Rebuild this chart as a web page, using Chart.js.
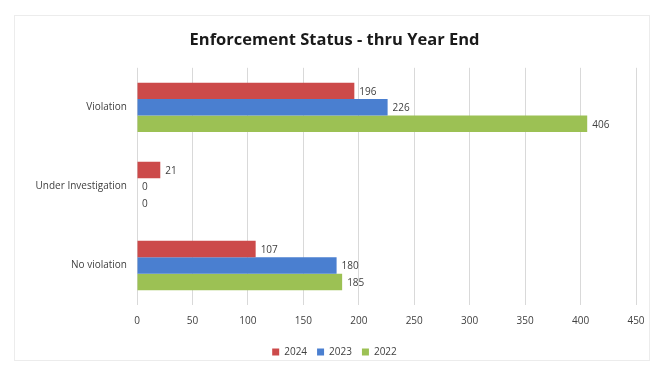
<!DOCTYPE html>
<html lang="en">
<head>
  <meta charset="UTF-8">
  <title>Enforcement Status</title>
  <script src="https://cdn.jsdelivr.net/npm/chart.js"></script>
  <style>
    html, body { margin: 0; padding: 0; background: #fff; }
    .frame {
      position: absolute;
      left: 14px; top: 15px;
      width: 636px; height: 346px;
      border: 1px solid #ececec;
      box-sizing: border-box;
    }
    #chart { position: absolute; left: 0; top: 0; }
  </style>
</head>
<body>
<div class="frame"></div>
<canvas id="chart" width="657" height="370"></canvas>

<script>
  const statuses = ['Violation', 'Under Investigation', 'No violation'];
  const years = ['2024', '2023', '2022'];
  const counts2024 = [196, 21, 107];
  const counts2023 = [226, 0, 180];
  const counts2022 = [406, 0, 185];
  const xTicks = [0, 50, 100, 150, 200, 250, 300, 350, 400, 450];
  const colors = ['#cc4a4a', '#4a7fd0', '#9cc154'];

  const font = '"Open Sans", "Liberation Sans", sans-serif';
  const textColor = '#404040';

  // value labels to the right of each bar end
  const barValues = {
    id: 'barValues',
    afterDatasetsDraw(chart) {
      const ctx = chart.ctx;
      ctx.save();
      ctx.font = '10px ' + font;
      ctx.fillStyle = textColor;
      ctx.textBaseline = 'middle';
      ctx.textAlign = 'left';
      chart.data.datasets.forEach((ds, i) => {
        chart.getDatasetMeta(i).data.forEach((bar, j) => {
          ctx.fillText(String(ds.data[j]), bar.x + 5, bar.y + 1);
        });
      });
      ctx.restore();
    }
  };

  new Chart(document.getElementById('chart'), {
    type: 'bar',
    data: {
      labels: statuses,
      datasets: [
        { label: years[0], data: counts2024, backgroundColor: colors[0] },
        { label: years[1], data: counts2023, backgroundColor: colors[1] },
        { label: years[2], data: counts2022, backgroundColor: colors[2] }
      ]
    },
    options: {
      indexAxis: 'y',
      responsive: false,
      animation: false,
      categoryPercentage: 0.625,
      barPercentage: 1,
      layout: { padding: { left: 33, right: 21, top: 28, bottom: 3 } },
      plugins: {
        title: {
          display: true,
          text: 'Enforcement Status - thru Year End',
          color: '#1a1a1a',
          font: { family: font, size: 16.5, weight: 'bold' },
          padding: { top: 2, bottom: 18 }
        },
        legend: {
          position: 'bottom',
          labels: {
            boxWidth: 7, boxHeight: 7, padding: 10,
            color: textColor,
            font: { family: font, size: 10 }
          }
        },
        tooltip: { enabled: false }
      },
      scales: {
        x: {
          min: 0, max: 450,
          afterBuildTicks(scale) { scale.ticks = xTicks.map(v => ({ value: v })); },
          grid: { color: '#d9d9d9', drawTicks: false },
          border: { display: false },
          ticks: { color: textColor, font: { family: font, size: 10 }, padding: 10 }
        },
        y: {
          grid: { display: false, tickLength: 0 },
          border: { display: false },
          afterFit(scale) { scale.width = 104; },
          ticks: { color: textColor, font: { family: font, size: 10 }, padding: 10 }
        }
      }
    },
    plugins: [barValues]
  });
</script>
</body>
</html>
